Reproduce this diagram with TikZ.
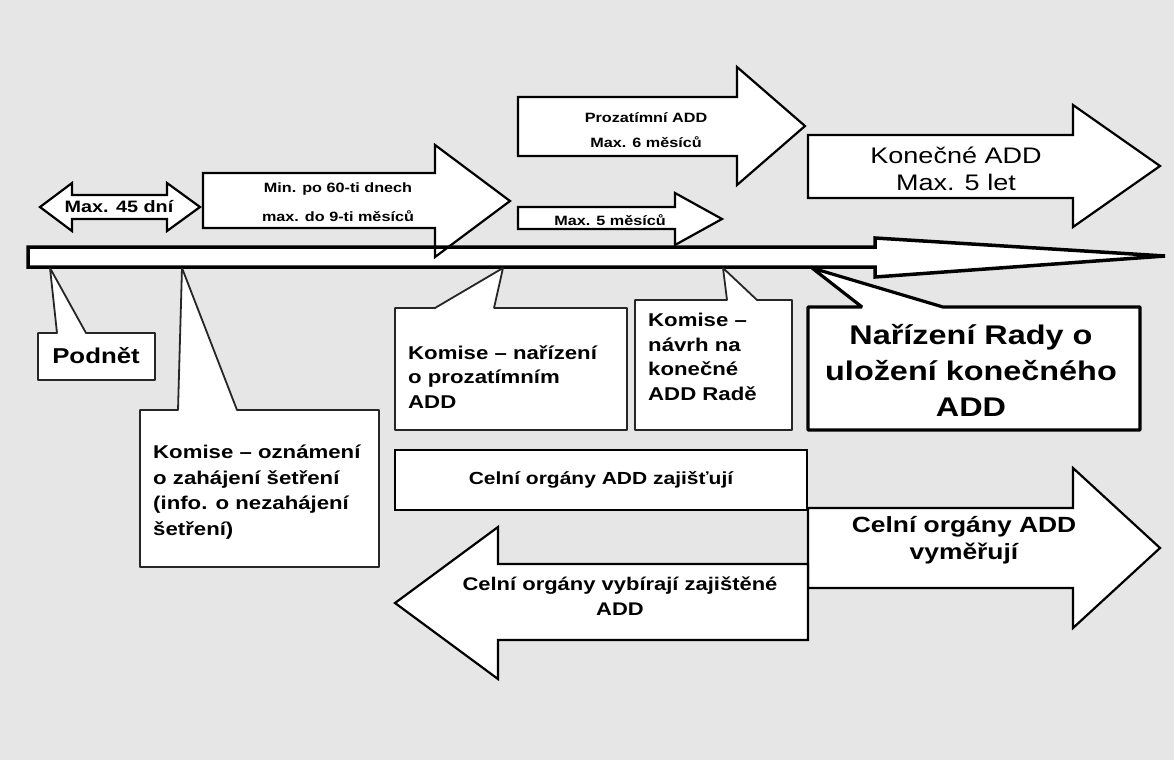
\documentclass[tikz,border=0pt]{standalone}
\usepackage{fontspec}
\setmainfont{Liberation Sans}[FakeStretch=1.2]
\usepackage{tikz}
\definecolor{papir}{RGB}{230,230,230}
\tikzstyle{sipka} = [draw=black, fill=white, line width=2.2pt, line join=miter]
\tikzstyle{osa} = [draw=black, line width=3.5pt, line join=miter]
\tikzstyle{bublina} = [draw=black!85, fill=white, line width=1.8pt, line join=bevel]
\tikzstyle{rada} = [draw=black, fill=white, line width=3.2pt, line join=bevel]
\tikzstyle{popis} = [inner sep=0pt, align=left, font=\bfseries\fontsize{18.5}{24.5}\selectfont]
\tikzstyle{drobny} = [inner sep=0pt, align=center, font=\bfseries\fontsize{13.5}{25}\selectfont]
\tikzstyle{velky} = [inner sep=0pt, align=center, font=\fontsize{22.5}{27}\selectfont]

\begin{document}
\begin{tikzpicture}[x=1pt, y=-1pt]
	\useasboundingbox (0,0) rectangle (1174,760);
	\fill[papir] (0,0) rectangle (1174,760);
	% casova osa - vypln
	\fill[white] (28,247) -- (875,247) -- (875,238) -- (1165,256) -- (875,277) -- (875,267) -- (28,267) -- cycle;
	% sipky nad osou
	\draw[sipka] (40,207) -- (72,183) -- (72,195) -- (167,195) -- (167,183) -- (200,207) -- (167,231) -- (167,219) -- (72,219) -- (72,231) -- cycle;
	\draw[sipka] (203,173) -- (435,173) -- (435,145) -- (510,201) -- (435,257) -- (435,228) -- (203,228) -- cycle;
	\draw[sipka] (518,97) -- (737,97) -- (737,67) -- (805,126) -- (737,185) -- (737,156) -- (518,156) -- cycle;
	\draw[sipka] (518,207) -- (675,207) -- (675,193) -- (722,219) -- (675,245) -- (675,229) -- (518,229) -- cycle;
	\draw[sipka] (808,135) -- (1073,135) -- (1073,105) -- (1160,166) -- (1073,227) -- (1073,198) -- (808,198) -- cycle;
	\node[drobny, font=\bfseries\fontsize{13.5}{29}\selectfont] (min60) at (338,202) {Min. po 60-ti dnech\\max. do 9-ti měsíců};
	\node[inner sep=0pt, font=\bfseries\fontsize{16.5}{20}\selectfont] (max45) at (119,207) {Max. 45 dní};
	\node[drobny] (prozatimni) at (646,130) {Prozatímní ADD\\Max. 6 měsíců};
	\node[drobny] (max5) at (610,220) {Max. 5 měsíců};
	\node[velky] (konecne) at (956,169) {Konečné ADD\\Max. 5 let};
	% casova osa - obrys
	\draw[osa] (28,247) -- (875,247) -- (875,238) -- (1165,256) -- (875,277) -- (875,267) -- (28,267) -- cycle;
	% bubliny pod osou
	\coordinate (hrot1) at (50,268);
	\coordinate (hrot2) at (182,268);
	\coordinate (hrot3) at (503,268);
	\coordinate (hrot4) at (723,268);
	\coordinate (hrot5) at (812,268);
	\draw[bublina] (38,333) -- (57,333) -- (hrot1) -- (86,333) -- (155,333) -- (155,380) -- (38,380) -- cycle;
	\draw[bublina] (140,410) -- (178,410) -- (hrot2) -- (237,410) -- (379,410) -- (379,567) -- (140,567) -- cycle;
	\draw[bublina] (395,308) -- (435,308) -- (hrot3) -- (494,308) -- (627,308) -- (627,430) -- (395,430) -- cycle;
	\draw[bublina] (635,300) -- (727,300) -- (hrot4) -- (757,300) -- (792,300) -- (792,430) -- (635,430) -- cycle;
	\draw[rada] (808,307) -- (862,307) -- (hrot5) -- (943,307) -- (1140,307) -- (1140,430) -- (808,430) -- cycle;
	\node[popis, font=\bfseries\fontsize{21.5}{24}\selectfont] (podnet) at (96,356) {Podnět};
	\node[popis, anchor=west, font=\bfseries\fontsize{18.5}{25.7}\selectfont] (oznameni) at (153,492) {Komise – oznámení\\o zahájení šetření\\(info. o nezahájení\\šetření)};
	\node[popis, anchor=west] (narizeni) at (408,377) {Komise – nařízení\\o prozatímním\\ADD};
	\node[popis, anchor=west] (navrh) at (648,357) {Komise –\\návrh na\\konečné\\ADD Radě};
	\node[popis, align=center, font=\bfseries\fontsize{27}{36}\selectfont] (rada) at (971,370) {Nařízení Rady o\\uložení konečného\\ADD};
	% celni organy
	\draw[sipka] (808,508) -- (1073,508) -- (1073,468) -- (1160,548) -- (1073,628) -- (1073,588) -- (808,588) -- cycle;
	\draw[sipka] (808,564) -- (498,564) -- (498,527) -- (395,603) -- (498,679) -- (498,640) -- (808,640) -- cycle;
	\node[sipka, minimum width=412pt, minimum height=60pt, inner sep=0pt, font=\bfseries\fontsize{17.5}{20}\selectfont] (zajistuji) at (601,480) {Celní orgány ADD zajišťují};
	\node[popis, align=center, font=\bfseries\fontsize{22}{27}\selectfont] (vymeruji) at (964,540) {Celní orgány ADD\\vyměřují};
	\node[popis, align=center, font=\bfseries\fontsize{18.3}{25}\selectfont] (vybiraji) at (620,596) {Celní orgány vybírají zajištěné\\ADD};
\end{tikzpicture}
\end{document}
